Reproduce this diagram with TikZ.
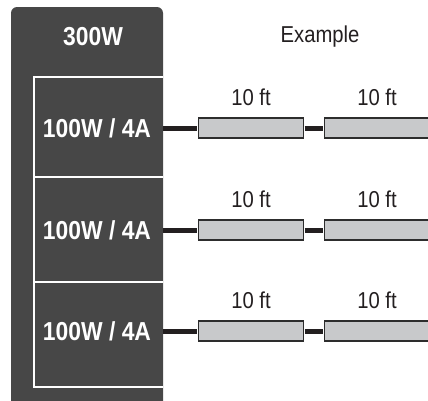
\documentclass[tikz,border=0pt]{standalone}
\usepackage{fontspec}
\newfontfamily\narrowsans{Liberation Sans}[FakeStretch=0.88]
\usetikzlibrary{positioning}
\definecolor{panelgray}{RGB}{71,71,71}
\definecolor{cablecol}{RGB}{35,31,32}
\definecolor{boxfill}{RGB}{200,201,203}
\definecolor{boxedge}{RGB}{45,45,45}

\begin{document}
\begin{tikzpicture}[x=1pt,y=-1pt,line join=miter,
    sectxt/.style={text=white, font=\narrowsans\bfseries\fontsize{26}{30}\selectfont, minimum width=132pt, inner sep=0pt},
    plaintxt/.style={text=cablecol, font=\narrowsans\fontsize{23}{27}\selectfont},
    cablebox/.style={draw=boxedge, fill=boxfill, line width=1.2pt, minimum width=105pt, minimum height=20pt, inner sep=0pt},
    cable/.style={draw=cablecol, line width=5pt},
    sepline/.style={draw=white, line width=1.5pt}]
    \useasboundingbox (0,0) rectangle (428,400);
    \clip (0,0) rectangle (428,400);

    % A sötét tápegység-panel, felül lekerekített sarkokkal
    \fill[panelgray, rounded corners=6pt] (11,410) -- (11,7) -- (163,7) -- (163,410);

    % Fehér elválasztó vonalak a kimenetek között
    \draw[sepline] (163,77) -- (34,77) -- (34,387) -- (163,387);
    \draw[sepline] (34,177) -- (163,177);
    \draw[sepline] (34,282) -- (163,282);

    % Fejlécek
    \node[sectxt, minimum width=0pt, anchor=base] (total) at (93,45) {300W};
    \node[plaintxt, anchor=base] (example) at (320,42.3) {Example};

    % Kimenetek, kábelszakaszok és hosszfeliratok
    \foreach \i/\y in {1/128,2/230,3/331}{
        \node[sectxt] (sec\i) at (97,\y) {100W / 4A};
        \node[cablebox] (lenA\i) at (251,\y) {};
        \node[cablebox] (lenB\i) at (377,\y) {};
        \node[plaintxt, above=8pt of lenA\i] (lblA\i) {10 ft};
        \node[plaintxt, above=8pt of lenB\i] (lblB\i) {10 ft};
        \draw[cable, shorten >=0.6pt] (sec\i.east) -- (lenA\i.west);
        \draw[cable, shorten <=0.6pt, shorten >=0.6pt] (lenA\i.east) -- (lenB\i.west);
    }
\end{tikzpicture}
\end{document}
